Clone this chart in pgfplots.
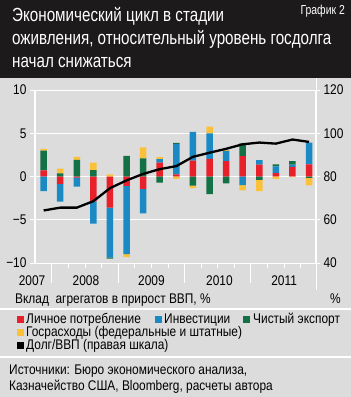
\documentclass[border=0pt]{standalone}
\usepackage{pgfplots}
\pgfplotsset{compat=1.18}
\usepackage{pgfplotstable}
\usepackage{fontspec}
\setmainfont{Liberation Sans}[FakeStretch=0.85]
\newfontfamily\titlefont{Liberation Sans}[FakeStretch=0.8]
\definecolor{bg}{HTML}{DCDCDC}
\definecolor{hdr}{HTML}{1C1A1A}
\definecolor{cred}{HTML}{E8202A}
\definecolor{cblue}{HTML}{1B8AC4}
\definecolor{cgreen}{HTML}{137145}
\definecolor{cyellow}{HTML}{FBC13A}
\newcommand\ff{\fontsize{14}{16}\selectfont}

\pgfplotstableread{
x  redp bluep greenp yellowp redn bluen greenn yellown
0  0.7  0    2.3  0.2   0     -1.7  0     0
1  0    0    0.35 0.55  -0.85 -2.05 0     0
2  0    0    1.92 0.35  -0.12 -1.05 0     0
3  0    0    0.75 0.85  -2.88 -2.57 0     0
4  0    0    0    0.25  -3.6  -5.75 -0.15 0
5  0    0    2.38 0     -1.08 -7.9  0     -0.35
6  0    0    2.1  1.28  -1.42 -2.83 0     0
7  1.6  0.4  0    0.25  0     0     -0.7  0
8  0.25 3.5  0.15 0     0     0     0     -0.28
9  1.85 3.3  0    0     0     0     -1.05 -0.28
10 2.04 2.96 0    0.77  0     0     -2.04 0
11 1.78 1.18 0    0.12  0     0     -0.8  0
12 2.37 0    1.45 0     0     -1.0  0     -0.6
13 1.38 0.5  0    0     0     0     -0.4  -1.28
14 0.39 0.77 0.25 0     0     0     0     -0.27
15 1.12 0.25 0.4  0     0     0     0     -0.05
16 1.4  2.53 0    0     0     0     -0.15 -0.88
}\bars

\pgfplotstableread{
x debt
0 64.3
1 65.6
2 65.6
3 68.6
4 74.6
5 78.2
6 81.2
7 83.4
8 84.8
9 89.1
10 91.0
11 92.8
12 94.9
13 95.7
14 95.2
15 97.1
16 96.0
}\debt

\pgfplotsset{common/.style={
  at={(35pt,-263pt)}, anchor=south west,
  scale only axis, width=281pt, height=173pt,
  xmin=-0.52, xmax=16.42,
}}

\begin{document}
\begin{tikzpicture}
\fill[hdr] (0pt,0pt) rectangle (351pt,-78pt);
\fill[bg] (0pt,-78pt) rectangle (351pt,-397pt);
\node[anchor=base west, inner sep=0, text=white, font=\titlefont\fontsize{19}{19}\selectfont] at (12pt,-21pt) {Экономический цикл в стадии};
\node[anchor=base west, inner sep=0, text=white, font=\titlefont\fontsize{19}{19}\selectfont] at (12pt,-44.5pt) {оживления, относительный уровень госдолга};
\node[anchor=base west, inner sep=0, text=white, font=\titlefont\fontsize{19}{19}\selectfont] at (12pt,-67.5pt) {начал снижаться};
\node[anchor=base east, inner sep=0, text=white, font=\titlefont\fontsize{13}{13}\selectfont] at (345pt,-14pt) {График 2};

\begin{axis}[common,
  ymin=-10, ymax=10,
  clip=false,
  ybar stacked, bar width=6.5pt,
  axis x line*=bottom, axis y line*=left,
  axis line style={white, line width=1pt},
  tick align=outside,
  major tick length=20pt, minor tick length=5pt,
  tick style={white, line width=1pt},
  xtick={0.5,4.5,8.5,12.5},
  xticklabels={},
  minor xtick={1.5,2.5,3.5,5.5,6.5,7.5,9.5,10.5,11.5,13.5,14.5,15.5},
  ytick={-10,-5,0,5,10},
  yticklabels={},
  ytick style={draw=none},
  ymajorgrids, major grid style={white, line width=1pt},
]
\addplot[fill=cred, draw=none] table[x=x,y=redp]{\bars};
\addplot[fill=cblue, draw=none] table[x=x,y=bluep]{\bars};
\addplot[fill=cgreen, draw=none] table[x=x,y=greenp]{\bars};
\addplot[fill=cyellow, draw=none] table[x=x,y=yellowp]{\bars};
\node[font=\ff, anchor=base] at (axis cs:-0.7,-10) [yshift=-22pt] {2007};
\node[font=\ff, anchor=base] at (axis cs:2.55,-10) [yshift=-22pt] {2008};
\node[font=\ff, anchor=base] at (axis cs:6.5,-10) [yshift=-22pt] {2009};
\node[font=\ff, anchor=base] at (axis cs:10.6,-10) [yshift=-22pt] {2010};
\node[font=\ff, anchor=base] at (axis cs:14.5,-10) [yshift=-22pt] {2011};
\end{axis}

\begin{axis}[common,
  ymin=-10, ymax=10,
  ybar stacked, bar width=6.5pt,
  axis x line=none, axis y line*=left,
  axis line style={white, line width=1pt},
  tick align=outside, major tick length=5pt,
  tick style={white, line width=1pt},
  ytick={-10,-5,0,5,10},
  yticklabels={−10,−5,0,5,10},
  yticklabel style={font=\ff, text=black},
]
\addplot[fill=cred, draw=none] table[x=x,y=redn]{\bars};
\addplot[fill=cblue, draw=none] table[x=x,y=bluen]{\bars};
\addplot[fill=cgreen, draw=none] table[x=x,y=greenn]{\bars};
\addplot[fill=cyellow, draw=none] table[x=x,y=yellown]{\bars};
\end{axis}

\begin{axis}[common,
  ymin=40, ymax=120,
  axis x line=none, axis y line*=right,
  axis line style={white, line width=1pt},
  tick align=outside, major tick length=4pt,
  tick style={white, line width=1pt},
  ytick={40,60,80,100,120},
  yticklabel style={font=\ff, text=black},
  /pgf/number format/assume math mode=true,
]
\addplot[black, line width=2.3pt, no markers, line join=round] table[x=x,y=debt]{\debt};
\end{axis}

\draw[white, line width=1pt] (316pt,-78pt) -- (316pt,-290pt);
\node[anchor=base west, inner sep=0, font=\ff] at (15pt,-303pt) {Вклад\ \ агрегатов в прирост ВВП, \%};
\node[anchor=base east, inner sep=0, font=\ff] at (341pt,-303pt) {\%};
\draw[white, line width=1.5pt] (0pt,-309pt) -- (351pt,-309pt);
\draw[white, line width=1.5pt] (0pt,-357pt) -- (351pt,-357pt);

\fill[cred] (17pt,-316pt) rectangle (24pt,-323pt);
\node[anchor=base west, inner sep=0, font=\ff] at (26pt,-323.5pt) {Личное потребление};
\fill[cblue] (155pt,-316pt) rectangle (162pt,-323pt);
\node[anchor=base west, inner sep=0, font=\ff] at (164pt,-323.5pt) {Инвестиции};
\fill[cgreen] (243pt,-316pt) rectangle (250pt,-323pt);
\node[anchor=base west, inner sep=0, font=\ff] at (253pt,-323.5pt) {Чистый экспорт};
\fill[cyellow] (17pt,-329pt) rectangle (24pt,-336pt);
\node[anchor=base west, inner sep=0, font=\ff] at (26pt,-336.5pt) {Госрасходы (федеральные и штатные)};
\fill[black] (17pt,-342pt) rectangle (24pt,-349pt);
\node[anchor=base west, inner sep=0, font=\ff] at (26pt,-349.5pt) {Долг/ВВП (правая шкала)};

\node[anchor=base west, inner sep=0, font=\ff] at (9pt,-374pt) {Источники: Бюро экономического анализа,};
\node[anchor=base west, inner sep=0, font=\ff] at (9pt,-390.5pt) {Казначейство США, Bloomberg, расчеты автора};

\pgfresetboundingbox
\path[use as bounding box] (0pt,0pt) rectangle (351pt,-397pt);
\end{tikzpicture}
\end{document}
